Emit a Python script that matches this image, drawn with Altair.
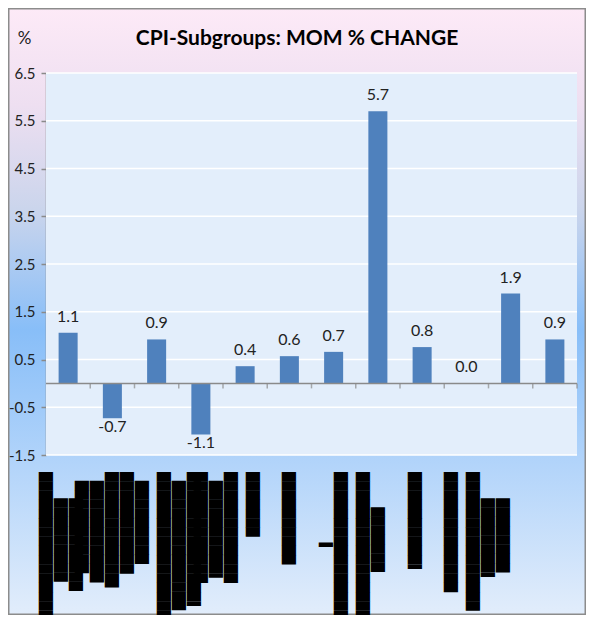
import altair as alt
import pandas as pd

# Category labels are redacted in the source (shown as solid black blocks).
B = "\u2588"   # full block
H = "\u2590"   # right half block
P = "\u2800"   # blank (invisible) pattern

label_lines = [
    [P, H + B * 15, B * 9 + P * 3, B * 10 + P * 3],
    [B * 10 + P, B * 11 + P, H + B * 12, B * 11, B * 9 + P],
    [P, P, P, B * 16, B * 14 + P, H + B * 14],
    [P, P, B * 12, H + B * 10 + P, B * 12],
    [P, P, P, B * 7],
    [P, P, B * 10],
    [P, P, H + P * 8, H + B * 15],
    [P, H + B * 15, B * 7 + P * 4],
    [P, P, H + B * 10],
    [P, B * 13],
    [B * 15, H + B * 8 + P * 3, B * 8 + P * 3],
    [P],
]
categories = ["\n".join(l) for l in label_lines]
values = [1.06, -0.73, 0.92, -1.07, 0.36, 0.57, 0.66, 5.70, 0.76, 0.0, 1.88, 0.92]
y_ticks = [-1.5, -0.5, 0.5, 1.5, 2.5, 3.5, 4.5, 5.5, 6.5]
title_text = "CPI-Subgroups: MOM % CHANGE"
unit_text = "%"

df = pd.DataFrame({"category": categories, "value": values})
df_odd = pd.DataFrame({"category": categories[0::2]})
df_even = pd.DataFrame({"category": categories[1::2]})
ticks_df = pd.DataFrame({"tick": y_ticks})
one_df = pd.DataFrame({"k": [0]})

x_scale = alt.Scale(domain=categories, range=[38, 569], paddingInner=0, paddingOuter=0)
y_scale = alt.Scale(domain=[-1.5, 6.5], range=[447, 65], nice=False)
X0 = alt.expr("range('x')[0]")
X1 = alt.expr("range('x')[1]")
AXIS_GREY = "#8A8A8A"

bg_gradient = (
    "{gradient: 'linear', x1: 0, y1: 0, x2: 0, y2: 1, stops: ["
    "{offset: 0, color: '#FDEAF7'}, {offset: 0.16, color: '#EEDFF1'}, "
    "{offset: 0.33, color: '#CBD5EC'}, {offset: 0.53, color: '#88BEF8'}, "
    "{offset: 0.75, color: '#B2D4FA'}, {offset: 1, color: '#E2EDFB'}]}"
)

y_axis = alt.Axis(
    values=y_ticks, format=".1f", labelExpr="replace(datum.label, '\u2212', '-')",
    offset=-38, grid=False, tickSize=5, tickColor=AXIS_GREY, tickWidth=1.5,
    domainColor=AXIS_GREY, domainWidth=1.5,
    labelFont="Liberation Sans Narrow, Lato, sans-serif", labelFontSize=15,
    labelColor="#222222", labelPadding=6,
    title=unit_text, titleAngle=0, titleAlign="center", titleBaseline="alphabetic",
    titleX=-22, titleY=35, titleFont="Lato", titleFontSize=17,
    titleFontWeight="normal", titleColor="#222222",
)

panel = alt.Chart(one_df).mark_rect(fill="#E3EEFB").encode(
    x=alt.value(X0), x2=alt.value(X1),
    y=alt.datum(-1.5, scale=y_scale, axis=None), y2=alt.datum(6.5),
)

grid = alt.Chart(ticks_df).mark_rule(color="#FFFFFF", strokeWidth=1.5).encode(
    x=alt.value(X0), x2=alt.value(X1),
    y=alt.Y("tick:Q", scale=y_scale, axis=None),
)

bars = alt.Chart(df).mark_bar(color="#4F81BD", width=alt.RelativeBandSize(0.43)).encode(
    x=alt.X("category:N", sort=None, scale=x_scale, axis=None),
    y=alt.Y("value:Q", scale=y_scale, axis=y_axis),
    y2=alt.datum(0),
)

zero_line = alt.Chart(one_df).mark_rule(color=AXIS_GREY, strokeWidth=1.5).encode(
    x=alt.value(X0), x2=alt.value(X1), y=alt.datum(0, axis=None),
)

band_ticks = alt.Chart(df).mark_tick(
    orient="vertical", size=5, thickness=1.5, color=AXIS_GREY, yOffset=2.5
).encode(
    x=alt.X("category:N", sort=None, bandPosition=1, axis=None),
    y=alt.datum(0, axis=None),
)

text_base = alt.Chart(df).transform_calculate(
    lab="replace(format(datum.value, '.1f'), '\u2212', '-')"
)
pos_text = text_base.transform_filter("datum.value >= 0").mark_text(
    font="Lato", fontSize=16, color="#222222", baseline="alphabetic", dy=-11
).encode(
    x=alt.X("category:N", sort=None, axis=None),
    y=alt.Y("value:Q", axis=None),
    text="lab:N",
)
neg_text = text_base.transform_filter("datum.value < 0").mark_text(
    font="Lato", fontSize=16, color="#222222", baseline="alphabetic", dy=14
).encode(
    x=alt.X("category:N", sort=None, axis=None),
    y=alt.Y("value:Q", axis=None),
    text="lab:N",
)

label_style = dict(
    font="DejaVu Sans", fontSize=12, lineHeight=15,
    angle=270, align="right", baseline="middle", color="#000000",
)


def label_layer(frame, shift):
    return alt.Chart(frame).transform_calculate(
        lines="split(datum.category, '\\n')"
    ).mark_text(dy=shift, **label_style).encode(
        x=alt.X("category:N", sort=None, axis=None),
        y=alt.value(464),
        text="lines:N",
    )


labels_odd = label_layer(df_odd, -37.5)
labels_even = label_layer(df_even, -30)

chart = alt.layer(
    panel, grid, bars, zero_line, band_ticks, pos_text, neg_text, labels_odd, labels_even,
).resolve_axis(x="independent", y="independent").properties(
    width=578, height=607,
    title=alt.TitleParams(
        title_text, font="Lato", fontSize=21, fontWeight="bold",
        color="#000000", anchor="middle", frame="group", offset=0,
        baseline="alphabetic", dy=58,
    ),
    view=alt.ViewBackground(fill=alt.expr(bg_gradient), stroke="#8C8C8C", strokeWidth=3),
    autosize=alt.AutoSizeParams(type="none"),
    padding=0,
)

chart.save("out.html", embed_options={"renderer": "svg", "actions": False})
